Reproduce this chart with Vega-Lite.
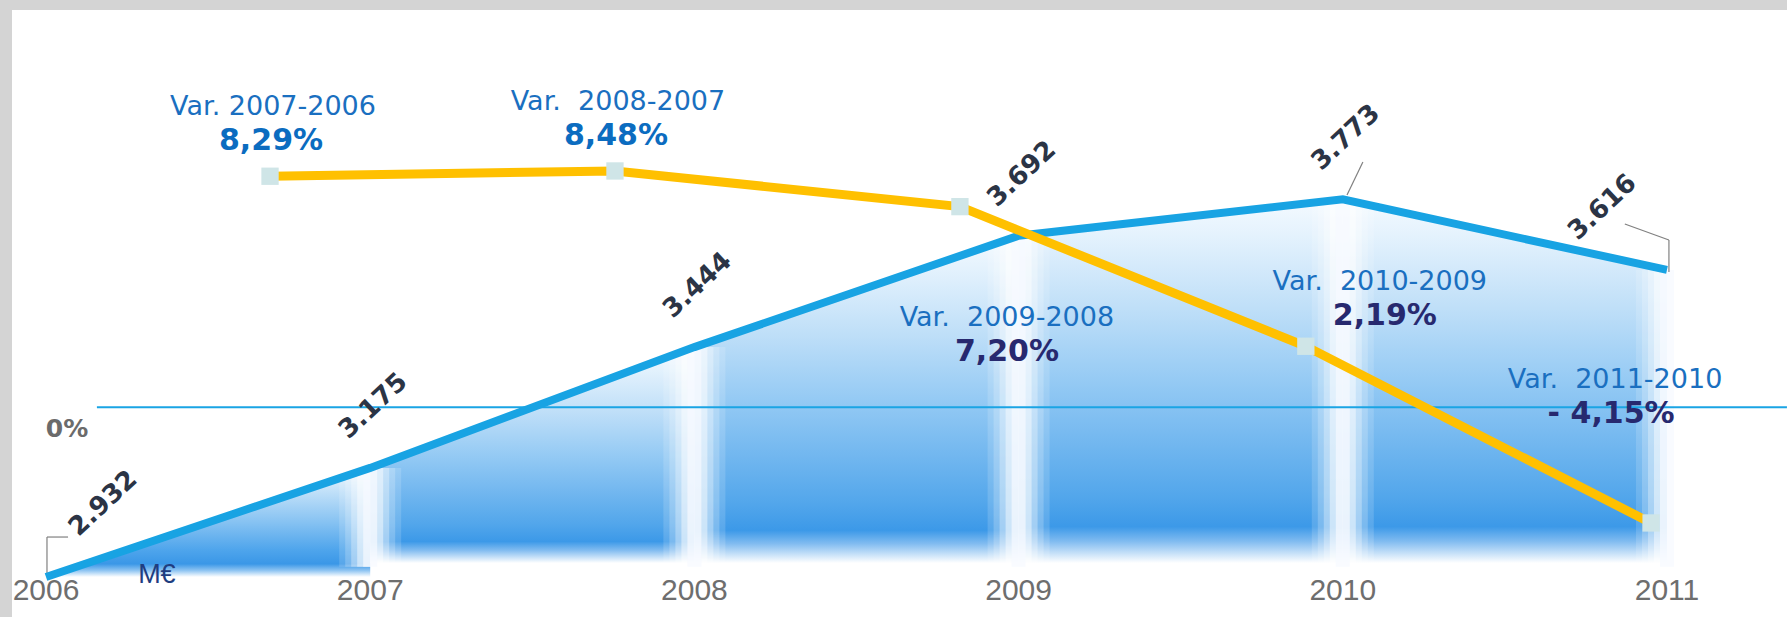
{
  "$schema": "https://vega.github.io/schema/vega-lite/v6.json",
  "autosize": {"type": "none"},
  "width": 1775,
  "height": 607,
  "padding": {"left": 12, "top": 10, "right": 0, "bottom": 0},
  "background": "#d4d4d4",
  "config": {"view": {"fill": "#ffffff", "stroke": null}},
  "datasets": {
    "blue": [
      {"year": 2006, "v": 2932, "label": "2.932"},
      {"year": 2007, "v": 3175, "label": "3.175"},
      {"year": 2008, "v": 3444, "label": "3.444"},
      {"year": 2009, "v": 3692, "label": "3.692"},
      {"year": 2010, "v": 3773, "label": "3.773"},
      {"year": 2011, "v": 3616, "label": "3.616"}
    ],
    "vars": [
      {"t": 2006.691, "p": 8.29, "title": "Var. 2007-2006", "pct": "8,29%"},
      {"t": 2007.755, "p": 8.48, "title": "Var.\u00a0 2008-2007", "pct": "8,48%"},
      {"t": 2008.819, "p": 7.20, "title": "Var.\u00a0 2009-2008", "pct": "7,20%"},
      {"t": 2009.886, "p": 2.19, "title": "Var.\u00a0 2010-2009", "pct": "2,19%"},
      {"t": 2010.951, "p": -4.15, "title": "Var.\u00a0 2011-2010", "pct": "- 4,15%"}
    ],
    "leaders": [
      {"x0": 2006.003, "y0": 2940, "x1": 2006.003, "y1": 3021},
      {"x0": 2006.003, "y0": 3021, "x1": 2006.068, "y1": 3021},
      {"x0": 2010.013, "y0": 3782.8, "x1": 2010.062, "y1": 3856.3},
      {"x0": 2011.006, "y0": 3611, "x1": 2011.006, "y1": 3682.6},
      {"x0": 2011.006, "y0": 3682.6, "x1": 2010.870, "y1": 3718.2}
    ]
  },
  "resolve": {"scale": {"y": "independent"}},
  "layer": [
    {
      "data": {"name": "blue"},
      "transform": [{"filter": "datum.year <= 2007"}],
      "mark": {"type": "area", "fill": {"gradient": "linear", "x1": 0, "y1": 0, "x2": 0, "y2": 1, "stops": [
        {"offset": 0, "color": "#eef7fe"}, {"offset": 0.2, "color": "#c4e2f9"}, {"offset": 0.5, "color": "#86c2f2"},
        {"offset": 0.75, "color": "#4fa5ec"}, {"offset": 0.88, "color": "#3a97e7"}, {"offset": 0.94, "color": "#8ec4f2"}, {"offset": 1, "color": "#ffffff"}]}},
      "encoding": {
        "x": {"field": "year", "type": "quantitative", "scale": {"domain": [2005.8951, 2011.3702], "nice": false, "zero": false}, "axis": null},
        "y": {"field": "v", "type": "quantitative", "scale": {"domain": [2842.9, 4194.8], "nice": false, "zero": false}, "axis": null},
        "y2": {"datum": 2932}
      }
    },
    {
      "data": {"name": "blue"},
      "transform": [{"filter": "datum.year >= 2007 && datum.year <= 2008"}],
      "mark": {"type": "area", "fill": {"gradient": "linear", "x1": 0, "y1": 0, "x2": 0, "y2": 1, "stops": [
        {"offset": 0, "color": "#f4faff"}, {"offset": 0.1, "color": "#e4f2fd"}, {"offset": 0.3, "color": "#bfdff8"}, {"offset": 0.5, "color": "#95caf4"},
        {"offset": 0.68, "color": "#70b6ef"}, {"offset": 0.82, "color": "#52a6eb"}, {"offset": 0.9, "color": "#3c99e8"}, {"offset": 0.94, "color": "#80bbf0"}, {"offset": 1, "color": "#ffffff"}]}},
      "encoding": {
        "x": {"field": "year", "type": "quantitative", "scale": {"domain": [2005.8951, 2011.3702], "nice": false, "zero": false}, "axis": null},
        "y": {"field": "v", "type": "quantitative", "scale": {"domain": [2842.9, 4194.8], "nice": false, "zero": false}, "axis": null},
        "y2": {"datum": 2963}
      }
    },
    {
      "data": {"name": "blue"},
      "transform": [{"filter": "datum.year >= 2008 && datum.year <= 2009"}],
      "mark": {"type": "area", "fill": {"gradient": "linear", "x1": 0, "y1": 0, "x2": 0, "y2": 1, "stops": [
        {"offset": 0, "color": "#f4faff"}, {"offset": 0.1, "color": "#e4f2fd"}, {"offset": 0.3, "color": "#bfdff8"}, {"offset": 0.5, "color": "#95caf4"},
        {"offset": 0.68, "color": "#70b6ef"}, {"offset": 0.82, "color": "#52a6eb"}, {"offset": 0.9, "color": "#3c99e8"}, {"offset": 0.94, "color": "#80bbf0"}, {"offset": 1, "color": "#ffffff"}]}},
      "encoding": {
        "x": {"field": "year", "type": "quantitative", "scale": {"domain": [2005.8951, 2011.3702], "nice": false, "zero": false}, "axis": null},
        "y": {"field": "v", "type": "quantitative", "scale": {"domain": [2842.9, 4194.8], "nice": false, "zero": false}, "axis": null},
        "y2": {"datum": 2963}
      }
    },
    {
      "data": {"name": "blue"},
      "transform": [{"filter": "datum.year >= 2009 && datum.year <= 2010"}],
      "mark": {"type": "area", "fill": {"gradient": "linear", "x1": 0, "y1": 0, "x2": 0, "y2": 1, "stops": [
        {"offset": 0, "color": "#f4faff"}, {"offset": 0.1, "color": "#e4f2fd"}, {"offset": 0.3, "color": "#bfdff8"}, {"offset": 0.5, "color": "#95caf4"},
        {"offset": 0.68, "color": "#70b6ef"}, {"offset": 0.82, "color": "#52a6eb"}, {"offset": 0.9, "color": "#3c99e8"}, {"offset": 0.94, "color": "#80bbf0"}, {"offset": 1, "color": "#ffffff"}]}},
      "encoding": {
        "x": {"field": "year", "type": "quantitative", "scale": {"domain": [2005.8951, 2011.3702], "nice": false, "zero": false}, "axis": null},
        "y": {"field": "v", "type": "quantitative", "scale": {"domain": [2842.9, 4194.8], "nice": false, "zero": false}, "axis": null},
        "y2": {"datum": 2963}
      }
    },
    {
      "data": {"name": "blue"},
      "transform": [{"filter": "datum.year >= 2010"}],
      "mark": {"type": "area", "fill": {"gradient": "linear", "x1": 0, "y1": 0, "x2": 0, "y2": 1, "stops": [
        {"offset": 0, "color": "#f4faff"}, {"offset": 0.1, "color": "#e4f2fd"}, {"offset": 0.3, "color": "#bfdff8"}, {"offset": 0.5, "color": "#95caf4"},
        {"offset": 0.68, "color": "#70b6ef"}, {"offset": 0.82, "color": "#52a6eb"}, {"offset": 0.9, "color": "#3c99e8"}, {"offset": 0.94, "color": "#80bbf0"}, {"offset": 1, "color": "#ffffff"}]}},
      "encoding": {
        "x": {"field": "year", "type": "quantitative", "scale": {"domain": [2005.8951, 2011.3702], "nice": false, "zero": false}, "axis": null},
        "y": {"field": "v", "type": "quantitative", "scale": {"domain": [2842.9, 4194.8], "nice": false, "zero": false}, "axis": null},
        "y2": {"datum": 2963}
      }
    },
    {
      "data": {"name": "blue"},
      "transform": [{"filter": "datum.year > 2006"}],
      "mark": {"type": "rule", "color": "#ffffff", "strokeWidth": 62, "opacity": 0.15, "strokeCap": "butt"},
      "encoding": {
        "x": {"field": "year", "type": "quantitative", "scale": {"domain": [2005.8951, 2011.3702], "nice": false, "zero": false}, "axis": null},
        "y": {"field": "v", "type": "quantitative", "scale": {"domain": [2842.9, 4194.8], "nice": false, "zero": false}, "axis": null},
        "y2": {"datum": 2955}
      }
    },
    {
      "data": {"name": "blue"},
      "transform": [{"filter": "datum.year > 2006"}],
      "mark": {"type": "rule", "color": "#ffffff", "strokeWidth": 50, "opacity": 0.2, "strokeCap": "butt"},
      "encoding": {
        "x": {"field": "year", "type": "quantitative", "scale": {"domain": [2005.8951, 2011.3702], "nice": false, "zero": false}, "axis": null},
        "y": {"field": "v", "type": "quantitative", "scale": {"domain": [2842.9, 4194.8], "nice": false, "zero": false}, "axis": null},
        "y2": {"datum": 2955}
      }
    },
    {
      "data": {"name": "blue"},
      "transform": [{"filter": "datum.year > 2006"}],
      "mark": {"type": "rule", "color": "#ffffff", "strokeWidth": 38, "opacity": 0.3, "strokeCap": "butt"},
      "encoding": {
        "x": {"field": "year", "type": "quantitative", "scale": {"domain": [2005.8951, 2011.3702], "nice": false, "zero": false}, "axis": null},
        "y": {"field": "v", "type": "quantitative", "scale": {"domain": [2842.9, 4194.8], "nice": false, "zero": false}, "axis": null},
        "y2": {"datum": 2955}
      }
    },
    {
      "data": {"name": "blue"},
      "transform": [{"filter": "datum.year > 2006"}],
      "mark": {"type": "rule", "color": "#ffffff", "strokeWidth": 26, "opacity": 0.45, "strokeCap": "butt"},
      "encoding": {
        "x": {"field": "year", "type": "quantitative", "scale": {"domain": [2005.8951, 2011.3702], "nice": false, "zero": false}, "axis": null},
        "y": {"field": "v", "type": "quantitative", "scale": {"domain": [2842.9, 4194.8], "nice": false, "zero": false}, "axis": null},
        "y2": {"datum": 2955}
      }
    },
    {
      "data": {"name": "blue"},
      "transform": [{"filter": "datum.year > 2006"}],
      "mark": {"type": "rule", "color": "#f6f9ff", "strokeWidth": 14, "opacity": 0.7, "strokeCap": "butt"},
      "encoding": {
        "x": {"field": "year", "type": "quantitative", "scale": {"domain": [2005.8951, 2011.3702], "nice": false, "zero": false}, "axis": null},
        "y": {"field": "v", "type": "quantitative", "scale": {"domain": [2842.9, 4194.8], "nice": false, "zero": false}, "axis": null},
        "y2": {"datum": 2955}
      }
    },
    {
      "data": {"values": [{}]},
      "mark": {"type": "rule", "color": "#1aa4e4", "strokeWidth": 2},
      "encoding": {
        "x": {"datum": 2006.157, "type": "quantitative", "scale": {"domain": [2005.8951, 2011.3702], "nice": false, "zero": false}, "axis": null},
        "x2": {"datum": 2011.37},
        "y": {"datum": 0, "type": "quantitative", "scale": {"domain": [-7.524, 14.255], "nice": false, "zero": false}, "axis": null}
      }
    },
    {
      "data": {"name": "leaders"},
      "mark": {"type": "rule", "color": "#808080", "strokeWidth": 1.2},
      "encoding": {
        "x": {"field": "x0", "type": "quantitative", "scale": {"domain": [2005.8951, 2011.3702], "nice": false, "zero": false}, "axis": null},
        "x2": {"field": "x1"},
        "y": {"field": "y0", "type": "quantitative", "scale": {"domain": [2842.9, 4194.8], "nice": false, "zero": false}, "axis": null},
        "y2": {"field": "y1"}
      }
    },
    {
      "data": {"name": "blue"},
      "mark": {"type": "line", "color": "#18a3e3", "strokeWidth": 8, "strokeJoin": "miter"},
      "encoding": {
        "x": {"field": "year", "type": "quantitative", "scale": {"domain": [2005.8951, 2011.3702], "nice": false, "zero": false}, "axis": null},
        "y": {"field": "v", "type": "quantitative", "scale": {"domain": [2842.9, 4194.8], "nice": false, "zero": false}, "axis": null}
      }
    },
    {
      "data": {"name": "vars"},
      "mark": {"type": "line", "color": "#ffc000", "strokeWidth": 9},
      "encoding": {
        "x": {"field": "t", "type": "quantitative", "scale": {"domain": [2005.8951, 2011.3702], "nice": false, "zero": false}, "axis": null},
        "y": {"field": "p", "type": "quantitative", "scale": {"domain": [-7.524, 14.255], "nice": false, "zero": false}, "axis": null}
      }
    },
    {
      "data": {"name": "vars"},
      "mark": {"type": "square", "color": "#cfe5e7", "opacity": 1, "size": 300, "filled": true},
      "encoding": {
        "x": {"field": "t", "type": "quantitative", "scale": {"domain": [2005.8951, 2011.3702], "nice": false, "zero": false}, "axis": null},
        "y": {"field": "p", "type": "quantitative", "scale": {"domain": [-7.524, 14.255], "nice": false, "zero": false}, "axis": null}
      }
    },
    {
      "data": {"name": "blue"},
      "mark": {"type": "text", "align": "center", "baseline": "middle", "font": "Liberation Sans", "fontSize": 30, "color": "#6e6e6e"},
      "encoding": {
        "x": {"field": "year", "type": "quantitative", "scale": {"domain": [2005.8951, 2011.3702], "nice": false, "zero": false}, "axis": null},
        "y": {"datum": -6.59, "type": "quantitative", "scale": {"domain": [-7.524, 14.255], "nice": false, "zero": false}, "axis": null},
        "text": {"field": "year", "type": "quantitative", "format": "d"}
      }
    },
    {
      "data": {"name": "blue"},
      "transform": [{"filter": "datum.year > 2006 && datum.year < 2011"}],
      "mark": {"type": "text", "angle": -43, "align": "center", "baseline": "middle", "dx": 44.5, "dy": -43.3, "font": "DejaVu Sans", "fontWeight": "bold", "fontSize": 26, "color": "#2b3445"},
      "encoding": {
        "x": {"field": "year", "type": "quantitative", "scale": {"domain": [2005.8951, 2011.3702], "nice": false, "zero": false}, "axis": null},
        "y": {"field": "v", "type": "quantitative", "scale": {"domain": [2842.9, 4194.8], "nice": false, "zero": false}, "axis": null},
        "text": {"field": "label"}
      }
    },
    {
      "data": {"name": "blue"},
      "transform": [{"filter": "datum.year == 2006"}],
      "mark": {"type": "text", "angle": -43, "align": "center", "baseline": "middle", "dx": 92, "dy": -15, "font": "DejaVu Sans", "fontWeight": "bold", "fontSize": 26, "color": "#2b3445"},
      "encoding": {
        "x": {"field": "year", "type": "quantitative", "scale": {"domain": [2005.8951, 2011.3702], "nice": false, "zero": false}, "axis": null},
        "y": {"field": "v", "type": "quantitative", "scale": {"domain": [2842.9, 4194.8], "nice": false, "zero": false}, "axis": null},
        "text": {"field": "label"}
      }
    },
    {
      "data": {"name": "blue"},
      "transform": [{"filter": "datum.year == 2011"}],
      "mark": {"type": "text", "angle": -43, "align": "center", "baseline": "middle", "dx": -4.5, "dy": -90, "font": "DejaVu Sans", "fontWeight": "bold", "fontSize": 26, "color": "#2b3445"},
      "encoding": {
        "x": {"field": "year", "type": "quantitative", "scale": {"domain": [2005.8951, 2011.3702], "nice": false, "zero": false}, "axis": null},
        "y": {"field": "v", "type": "quantitative", "scale": {"domain": [2842.9, 4194.8], "nice": false, "zero": false}, "axis": null},
        "text": {"field": "label"}
      }
    },
    {
      "data": {"name": "vars"},
      "transform": [{"filter": "datum.p > 8"}],
      "mark": {"type": "text", "align": "center", "baseline": "middle", "dx": 3, "dy": -69, "font": "DejaVu Sans", "fontSize": 27, "color": "#1a6fc0"},
      "encoding": {
        "x": {"field": "t", "type": "quantitative", "scale": {"domain": [2005.8951, 2011.3702], "nice": false, "zero": false}, "axis": null},
        "y": {"field": "p", "type": "quantitative", "scale": {"domain": [-7.524, 14.255], "nice": false, "zero": false}, "axis": null},
        "text": {"field": "title"}
      }
    },
    {
      "data": {"name": "vars"},
      "transform": [{"filter": "datum.p > 8"}],
      "mark": {"type": "text", "align": "center", "baseline": "middle", "dx": 1, "dy": -35, "font": "DejaVu Sans", "fontWeight": "bold", "fontSize": 30, "color": "#0b6cc0"},
      "encoding": {
        "x": {"field": "t", "type": "quantitative", "scale": {"domain": [2005.8951, 2011.3702], "nice": false, "zero": false}, "axis": null},
        "y": {"field": "p", "type": "quantitative", "scale": {"domain": [-7.524, 14.255], "nice": false, "zero": false}, "axis": null},
        "text": {"field": "pct"}
      }
    },
    {
      "data": {"name": "vars"},
      "transform": [{"filter": "datum.p == 7.2"}],
      "mark": {"type": "text", "align": "center", "baseline": "middle", "dx": 47, "dy": 111, "font": "DejaVu Sans", "fontSize": 27, "color": "#1a6fc0"},
      "encoding": {
        "x": {"field": "t", "type": "quantitative", "scale": {"domain": [2005.8951, 2011.3702], "nice": false, "zero": false}, "axis": null},
        "y": {"field": "p", "type": "quantitative", "scale": {"domain": [-7.524, 14.255], "nice": false, "zero": false}, "axis": null},
        "text": {"field": "title"}
      }
    },
    {
      "data": {"name": "vars"},
      "transform": [{"filter": "datum.p == 7.2"}],
      "mark": {"type": "text", "align": "center", "baseline": "middle", "dx": 47, "dy": 145, "font": "DejaVu Sans", "fontWeight": "bold", "fontSize": 30, "color": "#27296f"},
      "encoding": {
        "x": {"field": "t", "type": "quantitative", "scale": {"domain": [2005.8951, 2011.3702], "nice": false, "zero": false}, "axis": null},
        "y": {"field": "p", "type": "quantitative", "scale": {"domain": [-7.524, 14.255], "nice": false, "zero": false}, "axis": null},
        "text": {"field": "pct"}
      }
    },
    {
      "data": {"name": "vars"},
      "transform": [{"filter": "datum.p == 2.19"}],
      "mark": {"type": "text", "align": "center", "baseline": "middle", "dx": 74, "dy": -64, "font": "DejaVu Sans", "fontSize": 27, "color": "#1a6fc0"},
      "encoding": {
        "x": {"field": "t", "type": "quantitative", "scale": {"domain": [2005.8951, 2011.3702], "nice": false, "zero": false}, "axis": null},
        "y": {"field": "p", "type": "quantitative", "scale": {"domain": [-7.524, 14.255], "nice": false, "zero": false}, "axis": null},
        "text": {"field": "title"}
      }
    },
    {
      "data": {"name": "vars"},
      "transform": [{"filter": "datum.p == 2.19"}],
      "mark": {"type": "text", "align": "center", "baseline": "middle", "dx": 79, "dy": -30, "font": "DejaVu Sans", "fontWeight": "bold", "fontSize": 30, "color": "#27296f"},
      "encoding": {
        "x": {"field": "t", "type": "quantitative", "scale": {"domain": [2005.8951, 2011.3702], "nice": false, "zero": false}, "axis": null},
        "y": {"field": "p", "type": "quantitative", "scale": {"domain": [-7.524, 14.255], "nice": false, "zero": false}, "axis": null},
        "text": {"field": "pct"}
      }
    },
    {
      "data": {"name": "vars"},
      "transform": [{"filter": "datum.p < 0"}],
      "mark": {"type": "text", "align": "center", "baseline": "middle", "dx": -36, "dy": -143, "font": "DejaVu Sans", "fontSize": 27, "color": "#1a6fc0"},
      "encoding": {
        "x": {"field": "t", "type": "quantitative", "scale": {"domain": [2005.8951, 2011.3702], "nice": false, "zero": false}, "axis": null},
        "y": {"field": "p", "type": "quantitative", "scale": {"domain": [-7.524, 14.255], "nice": false, "zero": false}, "axis": null},
        "text": {"field": "title"}
      }
    },
    {
      "data": {"name": "vars"},
      "transform": [{"filter": "datum.p < 0"}],
      "mark": {"type": "text", "align": "center", "baseline": "middle", "dx": -40, "dy": -109, "font": "DejaVu Sans", "fontWeight": "bold", "fontSize": 30, "color": "#27296f"},
      "encoding": {
        "x": {"field": "t", "type": "quantitative", "scale": {"domain": [2005.8951, 2011.3702], "nice": false, "zero": false}, "axis": null},
        "y": {"field": "p", "type": "quantitative", "scale": {"domain": [-7.524, 14.255], "nice": false, "zero": false}, "axis": null},
        "text": {"field": "pct"}
      }
    },
    {
      "data": {"values": [{"txt": "0%"}]},
      "mark": {"type": "text", "align": "center", "baseline": "middle", "dy": 22, "font": "DejaVu Sans", "fontWeight": "bold", "fontSize": 25, "color": "#6b6b6b"},
      "encoding": {
        "x": {"datum": 2006.0647, "type": "quantitative", "scale": {"domain": [2005.8951, 2011.3702], "nice": false, "zero": false}, "axis": null},
        "y": {"datum": 0, "type": "quantitative", "scale": {"domain": [-7.524, 14.255], "nice": false, "zero": false}, "axis": null},
        "text": {"field": "txt"}
      }
    },
    {
      "data": {"values": [{"txt": "M€"}]},
      "mark": {"type": "text", "align": "center", "baseline": "middle", "font": "Liberation Sans", "fontSize": 27, "color": "#1f3d80"},
      "encoding": {
        "x": {"datum": 2006.342, "type": "quantitative", "scale": {"domain": [2005.8951, 2011.3702], "nice": false, "zero": false}, "axis": null},
        "y": {"datum": 2936, "type": "quantitative", "scale": {"domain": [2842.9, 4194.8], "nice": false, "zero": false}, "axis": null},
        "text": {"field": "txt"}
      }
    }
  ]
}
